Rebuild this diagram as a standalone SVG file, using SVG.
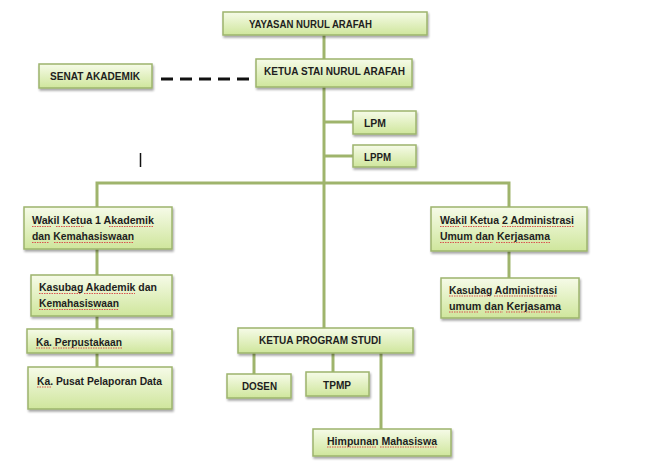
<svg xmlns="http://www.w3.org/2000/svg" width="668" height="469" viewBox="0 0 668 469">
<defs>
<linearGradient id="g" x1="0" y1="0" x2="0" y2="1">
<stop offset="0" stop-color="#f6fbe8"/>
<stop offset="1" stop-color="#cfe69c"/>
</linearGradient>
<filter id="sh" x="-10%" y="-20%" width="130%" height="160%">
<feDropShadow dx="1" dy="2" stdDeviation="1.2" flood-color="#000" flood-opacity="0.35"/>
</filter>
</defs>
<style>
.b{fill:url(#g);stroke:#9db46c;stroke-width:1.5;filter:url(#sh)}
.c{stroke:#9fb46c;stroke-width:3;fill:none}
.t{font-family:"Liberation Sans",Arial,sans-serif;font-size:10.5px;font-weight:bold;fill:#1e1e1e}
.s{stroke:#d9534f;stroke-width:1;stroke-dasharray:1.5 1;fill:none}
</style>
<rect width="668" height="469" fill="#ffffff"/>
<g id="connectors">
<line class="c" x1="324" y1="35" x2="324" y2="59"/>
<line class="c" x1="324" y1="87" x2="324" y2="328"/>
<line class="c" x1="324" y1="122" x2="353" y2="122"/>
<line class="c" x1="324" y1="156" x2="353" y2="156"/>
<polyline class="c" points="97,207 97,183 509,183 509,207"/>
<line class="c" x1="97" y1="249" x2="97" y2="275"/>
<line class="c" x1="97" y1="316" x2="97" y2="329"/>
<line class="c" x1="97" y1="353" x2="97" y2="367"/>
<line class="c" x1="509" y1="251" x2="509" y2="278"/>
<line class="c" x1="254" y1="353" x2="254" y2="374"/>
<line class="c" x1="333" y1="353" x2="333" y2="372"/>
<line class="c" x1="381" y1="353" x2="381" y2="429"/>
<line x1="161" y1="79" x2="252" y2="79" stroke="#111" stroke-width="3" stroke-dasharray="12 7"/>
</g>
<line x1="140.5" y1="153" x2="140.5" y2="167" stroke="#111" stroke-width="1.5"/>
<g id="yayasan"><rect class="b" x="223" y="12" width="204" height="23"/><text class="t" x="249" y="27.5" textLength="123" lengthAdjust="spacingAndGlyphs">YAYASAN NURUL ARAFAH</text></g>
<g id="senat"><rect class="b" x="39" y="64" width="113" height="24"/><text class="t" x="50" y="79.5" textLength="90" lengthAdjust="spacingAndGlyphs">SENAT AKADEMIK</text></g>
<g id="ketua"><rect class="b" x="256" y="59" width="156" height="28"/><text class="t" x="264" y="74.5" textLength="141" lengthAdjust="spacingAndGlyphs">KETUA STAI NURUL ARAFAH</text></g>
<g id="lpm"><rect class="b" x="353" y="111" width="63" height="23"/><text class="t" x="364" y="126.5" textLength="22" lengthAdjust="spacingAndGlyphs">LPM</text></g>
<g id="lppm"><rect class="b" x="353" y="145" width="63" height="22"/><text class="t" x="364" y="160.5" textLength="27" lengthAdjust="spacingAndGlyphs">LPPM</text></g>
<g id="wakil1"><rect class="b" x="24" y="207" width="148" height="42"/>
<text class="t" x="32" y="224" textLength="122" lengthAdjust="spacingAndGlyphs">Wakil Ketua 1 Akademik</text>
<text class="t" x="32" y="240" textLength="102" lengthAdjust="spacingAndGlyphs">dan Kemahasiswaan</text>
<path class="s" d="M32 226.5h20M56 226.5h28M109 226.5h45M32 242.5h17M54 242.5h80"/></g>
<g id="kasubag-akademik"><rect class="b" x="31" y="275" width="141" height="41"/>
<text class="t" x="39" y="291" textLength="118" lengthAdjust="spacingAndGlyphs">Kasubag Akademik dan</text>
<text class="t" x="39" y="307" textLength="80" lengthAdjust="spacingAndGlyphs">Kemahasiswaan</text>
<path class="s" d="M39 293.5h42M84 293.5h51M39 309.5h80"/></g>
<g id="perpustakaan"><rect class="b" x="27" y="329" width="145" height="24"/>
<text class="t" x="36" y="345.5" textLength="86" lengthAdjust="spacingAndGlyphs">Ka. Perpustakaan</text>
<path class="s" d="M36 348h14M53 348h69"/></g>
<g id="pusat-data"><rect class="b" x="28" y="367" width="144" height="42"/>
<text class="t" x="37" y="384.5" textLength="125" lengthAdjust="spacingAndGlyphs">Ka. Pusat Pelaporan Data</text>
<path class="s" d="M37 387h14"/></g>
<g id="wakil2"><rect class="b" x="431" y="207" width="156" height="44"/>
<text class="t" x="440" y="224" textLength="134" lengthAdjust="spacingAndGlyphs">Wakil Ketua 2 Administrasi</text>
<text class="t" x="440" y="240" textLength="110" lengthAdjust="spacingAndGlyphs">Umum dan Kerjasama</text>
<path class="s" d="M440 226.5h20M463 226.5h27M502 226.5h72M440 242.5h32M475 242.5h18M496 242.5h54"/></g>
<g id="kasubag-admin"><rect class="b" x="441" y="278" width="138" height="40"/>
<text class="t" x="449" y="293.5" textLength="108" lengthAdjust="spacingAndGlyphs">Kasubag Administrasi</text>
<text class="t" x="449" y="309.5" textLength="112" lengthAdjust="spacingAndGlyphs">umum  dan Kerjasama</text>
<path class="s" d="M449 296h42M494 296h63M449 312h30M485 312h18M506 312h55"/></g>
<g id="kaprodi"><rect class="b" x="238" y="328" width="175" height="25"/><text class="t" x="259" y="343.5" textLength="122" lengthAdjust="spacingAndGlyphs">KETUA PROGRAM STUDI</text></g>
<g id="dosen"><rect class="b" x="227" y="374" width="64" height="24"/><text class="t" x="242" y="389.5" textLength="35" lengthAdjust="spacingAndGlyphs">DOSEN</text></g>
<g id="tpmp"><rect class="b" x="306" y="372" width="63" height="24"/><text class="t" x="323" y="388.5" textLength="28" lengthAdjust="spacingAndGlyphs">TPMP</text></g>
<g id="himpunan"><rect class="b" x="313" y="429" width="138" height="27"/>
<text class="t" x="327" y="444.5" textLength="110" lengthAdjust="spacingAndGlyphs">Himpunan Mahasiswa</text>
<path class="s" d="M327 447h49M380 447h57"/></g>
</svg>
